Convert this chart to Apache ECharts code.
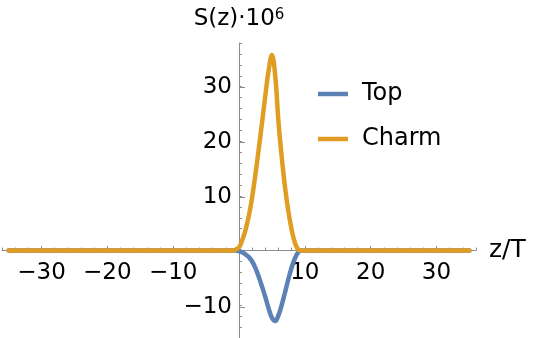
<!DOCTYPE html>
<html lang="en">
<head>
<meta charset="UTF-8">
<title>S(z)</title>
<script src="https://cdn.jsdelivr.net/npm/echarts@6/dist/echarts.min.js"></script>
<style>
  html, body { margin: 0; padding: 0; background: #fff; }
  #chart { width: 535px; height: 338px; }
</style>
</head>
<body>
<div id="chart"></div>
<script>
// z/T sample points
var zVals = [-35, -1, -0.5, 0, 0.5, 1, 1.5, 2, 2.5, 3, 3.5, 4, 4.5, 5, 5.5, 6, 6.5, 7, 7.5, 8, 8.5, 9, 9.5, 35];
var topVals = [0, 0, 0, -0.1, -0.3, -0.7, -1.2, -2, -3.2, -4.8, -6.6, -8.5, -10.6, -12.3, -12.9, -11.8, -9.9, -7.6, -5.2, -3.1, -1.4, -0.3, 0, 0];
var charmVals = [0, 0, 0.2, 0.6, 1.9, 3.8, 6.4, 9.8, 14, 18.6, 23.4, 28.4, 33, 35.8, 32, 23.5, 17, 11.5, 7.2, 3.8, 1.4, 0.2, 0, 0];
var seriesNames = ['Top', 'Charm'];
var seriesColors = ['#5E81B5', '#E19C24'];

var font = 'DejaVu Sans';
var axisGray = '#8c8c8c';

function pairs(vals) {
    return zVals.map(function (z, i) { return [z, vals[i]]; });
}
function tickLabel(v) {
    if (v === 0) return '';
    return v < 0 ? '\u2212' + Math.abs(v) : String(v);
}

var myChart = echarts.init(document.getElementById('chart'));
var option = {
    animation: false,
    // grid 0: axis lines, minor ticks, curves; grid 1: major ticks + labels (same scale)
    grid: [
        {left: 2, width: 474, top: 43, height: 297},
        {left: 41.5, width: 395, top: 87, height: 220}
    ],
    legend: {
        data: seriesNames,
        orient: 'vertical',
        left: 318,
        top: 82,
        padding: 0,
        icon: 'rect',
        itemWidth: 30,
        itemHeight: 4.5,
        itemGap: 21,
        textStyle: {fontFamily: font, fontSize: 24, color: '#000', lineHeight: 24, padding: [0, 0, 0, 9]}
    },
    xAxis: [
        {
            type: 'value', gridIndex: 0, min: -36, max: 36, interval: 2,
            name: 'z/T', nameLocation: 'end', nameGap: 13,
            nameTextStyle: {fontFamily: font, fontSize: 25, color: '#000'},
            axisLine: {show: true, onZero: true, lineStyle: {color: axisGray, width: 1}},
            axisTick: {show: true, inside: true, length: 3, lineStyle: {color: axisGray}},
            axisLabel: {show: false},
            splitLine: {show: false}
        },
        {
            // sits at grid bottom (307), shifted up onto z axis (252)
            type: 'value', gridIndex: 1, min: -30, max: 30, interval: 10,
            position: 'bottom', offset: -55,
            axisLine: {show: false, onZero: false},
            axisTick: {show: true, inside: true, length: 6, lineStyle: {color: axisGray}},
            axisLabel: {show: true, margin: 10, fontFamily: font, fontSize: 23, color: '#000', formatter: tickLabel},
            splitLine: {show: false}
        }
    ],
    yAxis: [
        {
            type: 'value', gridIndex: 0, min: -16, max: 38, interval: 2,
            name: 'S(z)\u00b710{s|6}', nameLocation: 'end', nameGap: 12,
            nameTextStyle: {
                fontFamily: font, fontSize: 23, color: '#000', align: 'center',
                rich: {s: {fontFamily: font, fontSize: 15, color: '#000', verticalAlign: 'top'}}
            },
            axisLine: {show: true, onZero: true, lineStyle: {color: axisGray, width: 1}},
            axisTick: {show: true, inside: true, length: 3, lineStyle: {color: axisGray}},
            axisLabel: {show: false},
            splitLine: {show: false}
        },
        {
            // sits at grid left (41.5), shifted right onto S axis (239)
            type: 'value', gridIndex: 1, min: -10, max: 30, interval: 10,
            position: 'left', offset: -197.5,
            axisLine: {show: false, onZero: false},
            axisTick: {show: true, inside: true, length: 6, lineStyle: {color: axisGray}},
            axisLabel: {show: true, margin: 7, fontFamily: font, fontSize: 23, color: '#000', formatter: tickLabel},
            splitLine: {show: false}
        }
    ],
    series: [
        {
            name: seriesNames[0], type: 'line', xAxisIndex: 0, yAxisIndex: 0,
            data: pairs(topVals), showSymbol: false, symbol: 'none',
            smooth: 0.4,
            lineStyle: {color: seriesColors[0], width: 4.5, cap: 'round', join: 'round'},
            itemStyle: {color: seriesColors[0]}
        },
        {
            name: seriesNames[1], type: 'line', xAxisIndex: 0, yAxisIndex: 0,
            data: pairs(charmVals), showSymbol: false, symbol: 'none',
            smooth: 0.4,
            lineStyle: {color: seriesColors[1], width: 4.5, cap: 'round', join: 'round'},
            itemStyle: {color: seriesColors[1]}
        }
    ]
};
myChart.setOption(option);
</script>
</body>
</html>
